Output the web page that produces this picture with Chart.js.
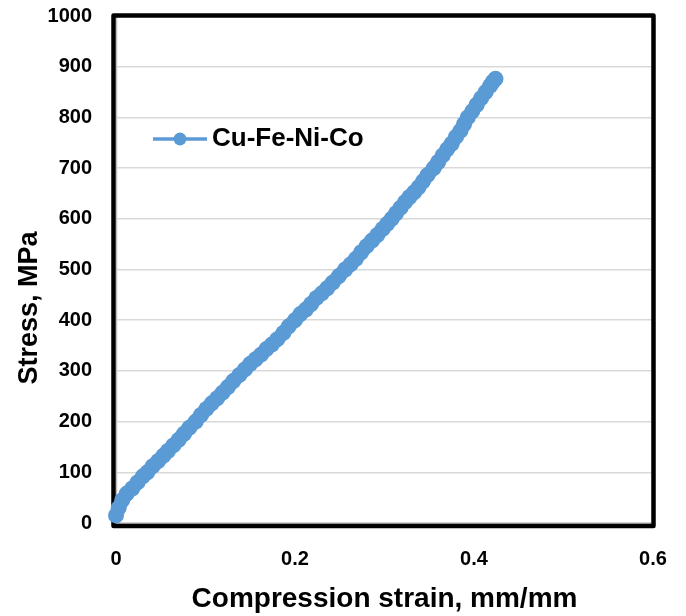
<!DOCTYPE html>
<html>
<head>
<meta charset="utf-8">
<script src="https://cdn.jsdelivr.net/npm/chart.js@4.4.1/dist/chart.umd.min.js"></script>
<style>
	html, body { margin: 0; padding: 0; background: #fff; }
	#wrap { width: 686px; height: 616px; }
</style>
</head>
<body>
<div id="wrap"><canvas id="stressChart" width="686" height="616"></canvas></div>
<script>
// du lieu doc tu hinh
const seriesName = 'Cu-Fe-Ni-Co';
const strain = [0, 0.003, 0.007, 0.012, 0.018, 0.024, 0.030, 0.035, 0.041, 0.047, 0.053, 0.058, 0.064, 0.070, 0.076, 0.082,
	0.089, 0.095, 0.101, 0.107, 0.113, 0.119, 0.125, 0.131, 0.138, 0.144, 0.150, 0.156, 0.162, 0.168, 0.174, 0.180,
	0.187, 0.193, 0.200, 0.206, 0.212, 0.218, 0.224, 0.230, 0.236, 0.242, 0.249, 0.256, 0.262, 0.268, 0.274, 0.280,
	0.286, 0.292, 0.298, 0.303, 0.308, 0.313, 0.318, 0.323, 0.328, 0.333, 0.338, 0.343, 0.348, 0.355, 0.360, 0.365,
	0.370, 0.375, 0.380, 0.385, 0.389, 0.393, 0.398, 0.403, 0.408, 0.413, 0.418, 0.421, 0.424];
const stress = [15, 30, 45, 58, 68, 80, 92, 100, 112, 122, 133, 142, 153, 164, 176, 188,
	200, 213, 225, 236, 246, 257, 268, 280, 292, 303, 314, 323, 332, 343, 352, 362,
	375, 388, 400, 412, 421, 432, 444, 453, 463, 474, 487, 500, 510, 521, 534, 546,
	557, 568, 580, 590, 600, 611, 622, 633, 643, 652, 662, 674, 686, 700, 712, 725,
	737, 748, 762, 774, 787, 800, 812, 825, 838, 850, 862, 870, 876];
const xTicks = [0, 0.2, 0.4, 0.6];
const yTicks = [0, 100, 200, 300, 400, 500, 600, 700, 800, 900, 1000];

const blue = '#5B9BD5';
const fontName = '"Liberation Sans", Arial, sans-serif';

// khung do thi + chu thich + ten truc y
const framePlugin = {
	id: 'frame',
	beforeDatasetsDraw(chart) {
		const a = chart.chartArea;
		const ctx = chart.ctx;
		ctx.save();
		// duong truc xam
		ctx.strokeStyle = '#bfbfbf';
		ctx.lineWidth = 1.5;
		ctx.beginPath();
		ctx.moveTo(a.left + 0.5, a.top);
		ctx.lineTo(a.left + 0.5, a.bottom + 0.5);
		ctx.lineTo(a.right, a.bottom + 0.5);
		ctx.stroke();
		// vien den
		ctx.strokeStyle = '#000';
		ctx.lineWidth = 4.5;
		ctx.lineJoin = 'round';
		ctx.strokeRect(a.left - 2.5, a.top - 0.5, a.right - a.left + 3, a.bottom - a.top + 3.5);
		ctx.restore();
	},
	afterDraw(chart) {
		const ctx = chart.ctx;
		ctx.save();
		// chu thich
		ctx.strokeStyle = blue;
		ctx.lineWidth = 3.5;
		ctx.beginPath();
		ctx.moveTo(153, 139);
		ctx.lineTo(207, 139);
		ctx.stroke();
		ctx.fillStyle = blue;
		ctx.beginPath();
		ctx.arc(180, 139, 6.5, 0, Math.PI * 2);
		ctx.fill();
		ctx.fillStyle = '#000';
		ctx.font = 'bold 26px ' + fontName;
		ctx.textAlign = 'left';
		ctx.textBaseline = 'middle';
		ctx.fillText(seriesName, 212, 139);
		// ten truc y
		ctx.translate(30, 308);
		ctx.rotate(-Math.PI / 2);
		ctx.textAlign = 'center';
		ctx.font = 'bold 27px ' + fontName;
		ctx.fillText('Stress, MPa', 0, 0);
		ctx.restore();
	}
};

const ctx = document.getElementById('stressChart').getContext('2d');
new Chart(ctx, {
	type: 'line',
	data: {
		datasets: [{
			label: seriesName,
			data: strain.map((s, i) => ({ x: s, y: stress[i] })),
			borderColor: blue,
			backgroundColor: blue,
			borderWidth: 14,
			borderCapStyle: 'round',
			borderJoinStyle: 'round',
			pointRadius: 8,
			pointHoverRadius: 8,
			pointBorderWidth: 0,
			tension: 0,
			clip: false
		}]
	},
	options: {
		responsive: false,
		animation: false,
		layout: {
			padding: { top: 16, right: 33, left: 0, bottom: 0 }
		},
		plugins: {
			legend: { display: false },
			tooltip: { enabled: false }
		},
		scales: {
			x: {
				type: 'linear',
				min: xTicks[0],
				max: xTicks[xTicks.length - 1],
				afterBuildTicks: scale => { scale.ticks = xTicks.map(v => ({ value: v })); },
				afterFit: scale => { scale.height = 93; scale.paddingLeft = 0; scale.paddingRight = 0; },
				grid: { display: false, drawTicks: false },
				border: { display: false },
				ticks: {
					color: '#000',
					padding: 24,
					maxRotation: 0,
					font: { family: fontName, size: 20, weight: 'bold' },
					callback: v => String(v)
				},
				title: {
					display: true,
					text: 'Compression strain, mm/mm',
					color: '#000',
					padding: { top: 8, bottom: 0 },
					font: { family: fontName, size: 28, weight: 'bold' }
				}
			},
			y: {
				type: 'linear',
				min: yTicks[0],
				max: yTicks[yTicks.length - 1],
				afterBuildTicks: scale => { scale.ticks = yTicks.map(v => ({ value: v })); },
				afterFit: scale => { scale.width = 116; scale.paddingTop = 0; scale.paddingBottom = 0; },
				grid: {
					drawTicks: false,
					color: '#d9d9d9',
					lineWidth: 1.5
				},
				border: { display: false },
				ticks: {
					color: '#000',
					padding: 24,
					font: { family: fontName, size: 20, weight: 'bold' },
					callback: v => String(v)
				}
			}
		}
	},
	plugins: [framePlugin]
});
</script>
</body>
</html>
